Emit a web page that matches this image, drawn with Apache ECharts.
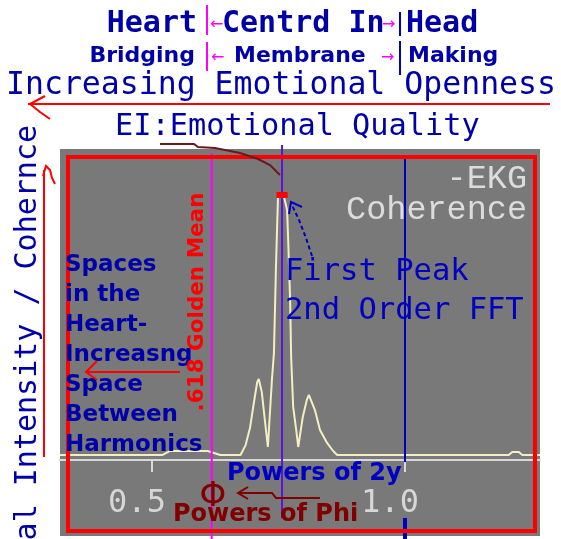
<!DOCTYPE html>
<html>
<head>
<meta charset="utf-8">
<script src="https://cdn.jsdelivr.net/npm/echarts@6/dist/echarts.min.js"></script>
<style>
  html, body { margin: 0; padding: 0; background: #ffffff; }
  #chart { width: 561px; height: 539px; }
</style>
</head>
<body>
<div id="chart"></div>
<script>
// Second-order FFT of the EKG: frequency ratio vs. spectral intensity
const freq = [0.318, 0.520, 0.535, 0.610, 0.635, 0.675, 0.685, 0.694, 0.700, 0.708,
              0.711, 0.717, 0.723, 0.729, 0.737, 0.741, 0.745, 0.749, 0.761, 0.767,
              0.769, 0.773, 0.775, 0.779, 0.785, 0.789, 0.798, 0.806, 0.810, 0.822,
              0.832, 0.846, 0.858, 0.866, 1.205, 1.212, 1.225, 1.232, 1.267];
const intensity = [1.6, 1.6, 2.9, 2.9, 1.6, 1.6, 4.8, 10.6, 17.1, 25.2,
                   26.1, 21.9, 12.9, 4.2, 25.8, 34.5, 62.3, 84.8, 84.8, 80.6,
                   71.6, 51.6, 33.2, 17.1, 9.7, 4.2, 13.9, 19.4, 21.0, 16.1,
                   9.7, 5.5, 2.9, 1.6, 1.6, 2.6, 2.6, 1.6, 1.6];

// first peak of the spectrum
const peakFreq = 0.757;
const peakValue = 85.5;

// reference lines: golden mean, powers of phi, powers of 2
const guideNames = ['.618 Golden Mean', 'Powers of Phi', 'Powers of 2'];
const guideFreq = [0.618, 0.757, 1.0];

const tickValues = [0.5, 1.0];

const BLUE = '#0000a8';
const MONO = '"DejaVu Sans Mono", monospace';
const SANS = '"DejaVu Sans", sans-serif';

// drawing style of each reference line (pixel extents of its segments)
const guideStyle = [
  { color: '#ff00ff', segs: [[153, 539, 2]] },
  { color: '#5a14d8', segs: [[145, 518, 2]] },
  { color: '#0000c0', segs: [[157, 462, 2], [518, 539, 4]] }
];

const chart = echarts.init(document.getElementById('chart'), null, { renderer: 'canvas' });

function txt(text, x, y, font, fill, align, extra) {
  return Object.assign({
    type: 'text', x: x, y: y, z: 20, silent: true,
    style: { text: text, font: font, fill: fill, align: align || 'left', verticalAlign: 'middle' }
  }, extra || {});
}
function poly(points, stroke, lw, dash) {
  return { type: 'polyline', z: 18, silent: true,
    shape: { points: points },
    style: { stroke: stroke, lineWidth: lw, fill: null, lineDash: dash || null } };
}

const option = {
  animation: false,
  backgroundColor: '#ffffff',
  grid: {
    left: 60, right: 21, top: 150, bottom: 79,
    containLabel: false, outerBoundsMode: 'none', show: false
  },
  xAxis: {
    type: 'value', min: 0.3182, max: 1.2668,
    axisLine: { show: true, onZero: false, lineStyle: { color: '#d8d8d8', width: 2 } },
    axisTick: { show: true, customValues: tickValues, length: 12, lineStyle: { color: '#d8d8d8', width: 2 } },
    axisLabel: {
      show: true, customValues: tickValues, formatter: v => v.toFixed(1),
      color: '#d6d6d6', fontFamily: MONO, fontSize: 32, margin: 28, padding: [0, 30, 0, 0]
    },
    splitLine: { show: false }
  },
  yAxis: {
    type: 'value', min: 0, max: 100, show: false, splitLine: { show: false }
  },
  series: [
    {
      type: 'custom', name: 'guides', silent: true, clip: false, z: 4,
      data: guideFreq.map((f, i) => ({ name: guideNames[i], value: [f] })),
      renderItem: function (params, api) {
        const x = api.coord([api.value(0), 0])[0];
        const st = guideStyle[params.dataIndex];
        return {
          type: 'group',
          children: st.segs.map(s => ({
            type: 'line',
            shape: { x1: x, y1: s[0], x2: x, y2: s[1] },
            style: { stroke: st.color, lineWidth: s[2] }
          }))
        };
      }
    },
    {
      type: 'line', name: 'EKG Coherence', silent: true, z: 3,
      data: freq.map((f, i) => [f, intensity[i]]),
      symbol: 'none',
      lineStyle: { color: '#f3efc2', width: 2 },
      markPoint: {
        silent: true,
        symbol: 'rect', symbolSize: [11, 6],
        itemStyle: { color: '#ff0000' },
        label: { show: false },
        data: [{ coord: [peakFreq, peakValue] }]
      }
    }
  ],
  graphic: [
    // gray plot panel
    { type: 'rect', z: -10, silent: true, shape: { x: 60, y: 149, width: 480, height: 387 },
      style: { fill: '#797979' } },
    // red frame round the plot
    { type: 'rect', z: 15, silent: true, shape: { x: 68, y: 157, width: 467, height: 374 },
      style: { stroke: '#ff0000', lineWidth: 4, fill: null } },

    // header rows
    txt('Heart', 197, 24, 'bold 30px ' + MONO, BLUE, 'right'),
    txt('Centrd In', 222, 24, 'bold 30px ' + MONO, BLUE, 'left'),
    txt('Head', 406, 24, 'bold 30px ' + MONO, BLUE, 'left'),
    txt('\u2190', 210, 25, '16px ' + SANS, '#ff00ff', 'left'),
    txt('\u2192', 382, 25, '16px ' + SANS, '#ff00ff', 'left'),
    poly([[207, 5], [207, 35]], '#ff00ff', 2),
    poly([[400, 12], [400, 36]], '#0000c0', 2),

    txt('Bridging', 195, 56, 'bold 22px ' + SANS, BLUE, 'right'),
    txt('Membrane', 234, 56, 'bold 22px ' + SANS, BLUE, 'left'),
    txt('Making', 408, 56, 'bold 22px ' + SANS, BLUE, 'left'),
    txt('\u2190', 211, 58, '16px ' + SANS, '#ff00ff', 'left'),
    txt('\u2192', 381, 58, '16px ' + SANS, '#ff00ff', 'left'),
    poly([[207, 42], [207, 71]], '#ff00ff', 2),
    poly([[400, 41], [400, 75]], '#0000c0', 2),

    txt('Increasing Emotional Openness', 281, 86, '31.5px ' + MONO, BLUE, 'center'),
    poly([[550, 104], [28, 104]], '#ff0000', 2),
    poly([[45, 96], [30, 104], [40, 112], [50, 119]], '#ff0000', 2),

    txt('EI:Emotional Quality', 115, 127, '30.3px ' + MONO, BLUE, 'left'),
    poly([[160, 144], [194, 144], [198, 147], [215, 148], [240, 153], [258, 159], [270, 165], [280, 175]], '#6a1a1a', 2),

    // vertical axis title with its arrow
    txt('Spectral Intensity / Cohernce', 28, 125, '30px ' + MONO, BLUE, 'right', { rotation: Math.PI / 2 }),
    poly([[44, 457], [44, 170]], '#ff0000', 2),
    poly([[43, 176], [46, 166], [50, 170], [52, 178], [55, 184]], '#ff0000', 2),

    // plot annotations
    txt('-EKG', 527, 179, '33.5px "Liberation Mono", monospace', '#dcdcdc', 'right'),
    txt('Coherence', 527, 210, '33.5px "Liberation Mono", monospace', '#dcdcdc', 'right'),
    txt('First Peak', 285, 272, '30.5px ' + MONO, '#0000c0', 'left'),
    txt('2nd Order FFT', 285, 311, '30.5px ' + MONO, '#0000c0', 'left'),
    poly([[312, 256], [306, 238], [299, 220], [291, 203]], '#0000c0', 2, [4, 3]),
    poly([[289, 214], [291, 202], [302, 207]], '#0000c0', 2),

    { type: 'text', x: 65, y: 250, z: 20, silent: true,
      style: { text: 'Spaces\nin the\nHeart-\nIncreasng\nSpace\nBetween\nHarmonics',
        font: 'bold 23px ' + SANS, fill: BLUE, lineHeight: 30, align: 'left', verticalAlign: 'top' } },
    poly([[180, 372], [86, 372]], '#ff0000', 2),
    poly([[97, 361], [86, 372], [97, 380]], '#ff0000', 2),

    txt('.618 Golden Mean', 197, 302, 'bold 21.5px ' + SANS, '#ff0000', 'center', { rotation: Math.PI / 2 }),

    txt('Powers of 2y', 227, 474, 'bold 24px ' + SANS, '#0000c0', 'left'),
    txt('Powers of Phi', 173, 515, 'bold 24px ' + SANS, '#800000', 'left'),
    txt('\u03A6', 213, 497, '34px ' + SANS, '#800000', 'center'),
    poly([[238, 493], [272, 493], [276, 498], [320, 498]], '#800000', 2),
    poly([[248, 487], [238, 493], [248, 499]], '#800000', 2)
  ]
};

chart.setOption(option);
</script>
</body>
</html>
